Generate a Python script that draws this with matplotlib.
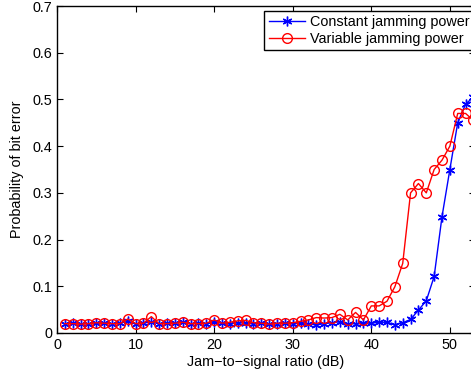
import matplotlib
matplotlib.use("Agg")
import matplotlib.pyplot as plt

plt.rcParams['font.family'] = ['Liberation Sans', 'DejaVu Sans']

# jam-to-signal ratio (dB)
jsr = list(range(1, 54))

# probability of bit error, constant jamming power
pb_const = [0.020, 0.021, 0.019, 0.020, 0.021, 0.022, 0.020, 0.021, 0.025, 0.019,
            0.021, 0.024, 0.020, 0.021, 0.022, 0.023, 0.020, 0.021, 0.020, 0.023,
            0.021, 0.020, 0.022, 0.021, 0.020, 0.021, 0.019, 0.020, 0.021, 0.020,
            0.021, 0.020, 0.017, 0.020, 0.022, 0.024, 0.019, 0.020, 0.021, 0.021,
            0.023, 0.023, 0.018, 0.022, 0.029, 0.049, 0.069, 0.121, 0.249, 0.350,
            0.450, 0.490, 0.505]

# probability of bit error, variable jamming power
pb_var = [0.020, 0.020, 0.019, 0.020, 0.022, 0.021, 0.020, 0.020, 0.030, 0.020,
          0.021, 0.035, 0.020, 0.020, 0.021, 0.023, 0.020, 0.020, 0.021, 0.028,
          0.021, 0.023, 0.026, 0.027, 0.022, 0.021, 0.019, 0.021, 0.021, 0.022,
          0.025, 0.028, 0.033, 0.032, 0.033, 0.040, 0.028, 0.044, 0.028, 0.058,
          0.058, 0.068, 0.099, 0.149, 0.300, 0.320, 0.300, 0.350, 0.370, 0.400,
          0.470, 0.470, 0.455]

fig = plt.figure(figsize=(4.71, 3.75), dpi=100)
ax = fig.add_axes([57 / 471, 42 / 375, 418 / 471, 327 / 375])

# MATLAB-style asterisk marker
asterisk = (6, 2, 0)
ax.plot(jsr, pb_const, color='blue', lw=1, marker=asterisk, ms=7, mew=1,
        label='Constant jamming power')
ax.plot(jsr, pb_var, color='red', lw=1, marker='o', ms=7, mfc='none', mew=1,
        label='Variable jamming power')

ax.set_xlim(0, 53.2)
ax.set_ylim(0, 0.7)
ax.set_xticks([0, 10, 20, 30, 40, 50])
ax.set_yticks([0, 0.1, 0.2, 0.3, 0.4, 0.5, 0.6, 0.7])
ax.set_yticklabels(['0', '0.1', '0.2', '0.3', '0.4', '0.5', '0.6', '0.7'])
ax.tick_params(direction='in', top=True, right=True, length=4, labelsize=10.4)
for s in ax.spines.values():
    s.set_linewidth(1)
ax.set_xlabel('Jam\u2212to\u2212signal ratio (dB)', fontsize=10.4, labelpad=2)
ax.set_ylabel('Probability of bit error', fontsize=10.4, labelpad=6)

leg = ax.legend(loc='upper right', bbox_to_anchor=(0.9985, 0.985), fontsize=10.4,
                fancybox=False, edgecolor='black', framealpha=1,
                handlelength=2.5, handletextpad=0.4, borderpad=0.3,
                labelspacing=0.2, borderaxespad=0)
leg.get_frame().set_linewidth(1)

fig.savefig('out.png', dpi=100)
